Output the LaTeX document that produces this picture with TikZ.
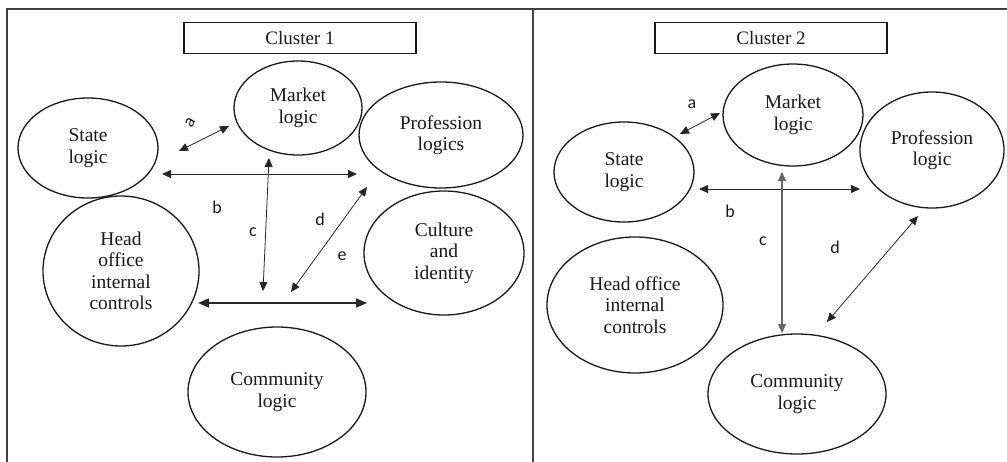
\documentclass[tikz,border=0pt]{standalone}
\usepackage{fontspec}
\setmainfont{Liberation Serif}
\newfontfamily\lblfont{Carlito}
\usetikzlibrary{shapes.geometric,arrows.meta}
\begin{document}
\begin{tikzpicture}[x=1pt,y=-1pt,
  logic/.style={draw=black!90,line width=1.3pt,ellipse,inner sep=0pt,align=center,
    font=\fontsize{19.5}{21.5}\selectfont,text=black!90},
  titlebox/.style={draw=black!90,line width=1.4pt,minimum width=232pt,minimum height=31pt,
    inner sep=0pt,font=\fontsize{19}{21}\selectfont,text=black!90},
  lbl/.style={font=\lblfont\fontsize{18}{20}\selectfont,text=black!90,inner sep=0pt},
  link/.style={draw=black!85,line width=0.8pt,{Triangle[length=9pt,width=8pt]}-{Triangle[length=9pt,width=8pt]}},
  frame/.style={draw=black!75,line width=1.3pt}]
\useasboundingbox (0,0) rectangle (1007,461);
% frame
\draw[frame] (7,470) -- (7,9) -- (1010,9);
\draw[frame] (533,9) -- (533,470);

% ---------------- Cluster 1 ----------------
\node[titlebox] (t1) at (300,38) {Cluster 1};
\node[logic,minimum width=140pt,minimum height=100pt] (s1) at (88,148) {State\\logic};
\node[logic,minimum width=128pt,minimum height=94pt] (m1) at (298,108) {Market\\logic};
\node[logic,minimum width=164pt,minimum height=106pt] (p1) at (441,135) {Profession\\logics};
\node[logic,minimum width=156pt,minimum height=150pt] (h1) at (121,271) {Head\\office\\internal\\controls};
\node[logic,minimum width=160pt,minimum height=124pt] (cu1) at (444,253) {Culture\\and\\identity};
\node[logic,minimum width=178pt,minimum height=130pt] (co1) at (277,392) {Community\\logic};

\coordinate (a1s) at (179,151);
\coordinate (a1e) at (229,126);
\coordinate (b1s) at (162,174);
\coordinate (b1e) at (357,174);
\coordinate (c1s) at (269,158);
\coordinate (c1e) at (263,291);
\coordinate (d1s) at (367,187);
\coordinate (d1e) at (291,292);
\coordinate (e1s) at (198,303);
\coordinate (e1e) at (367,303);

\draw[link] (a1s) -- (a1e);
\draw[link] (b1s) -- (b1e);
\draw[link] (c1s) -- (c1e);
\draw[link] (d1s) -- (d1e);
\draw[link,line width=1.7pt,{Triangle[length=11pt,width=9pt]}-{Triangle[length=11pt,width=9pt]}] (e1s) -- (e1e);

\node[lbl,rotate=60] (la1) at (190,123) {a};
\node[lbl] (lb1) at (217,207) {b};
\node[lbl] (lc1) at (253,232) {c};
\node[lbl] (ld1) at (320,219) {d};
\node[lbl] (le1) at (342,256) {e};

% ---------------- Cluster 2 ----------------
\node[titlebox] (t2) at (771,38) {Cluster 2};
\node[logic,minimum width=140pt,minimum height=100pt] (s2) at (624,172) {State\\logic};
\node[logic,minimum width=140pt,minimum height=102pt] (m2) at (793,115) {Market\\logic};
\node[logic,minimum width=144pt,minimum height=116pt] (p2) at (932,150) {Profession\\logic};
\node[logic,minimum width=176pt,minimum height=136pt] (h2) at (635,305) {Head office\\internal\\controls};
\node[logic,minimum width=178pt,minimum height=120pt] (co2) at (797,394) {Community\\logic};

\coordinate (a2s) at (680,134);
\coordinate (a2e) at (720,113);
\coordinate (b2s) at (699,189);
\coordinate (b2e) at (860,189);
\coordinate (c2s) at (782,172);
\coordinate (c2e) at (782,333);
\coordinate (d2s) at (827,322);
\coordinate (d2e) at (918,216);

\draw[link] (a2s) -- (a2e);
\draw[link] (b2s) -- (b2e);
\draw[link,draw=black!60,line width=1.1pt] (c2s) -- (c2e);
\draw[link] (d2s) -- (d2e);

\node[lbl] (la2) at (692,104) {a};
\node[lbl] (lb2) at (730,211) {b};
\node[lbl] (lc2) at (763,241) {c};
\node[lbl] (ld2) at (835,247) {d};
\end{tikzpicture}
\end{document}
